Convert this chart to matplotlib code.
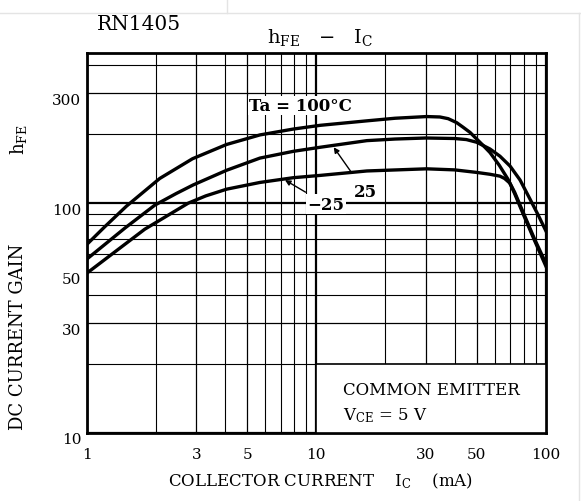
import numpy as np
import matplotlib
matplotlib.use("Agg")
import matplotlib.pyplot as plt
import matplotlib.transforms as mtransforms
from matplotlib.patches import Rectangle
from matplotlib.lines import Line2D

# hFE - IC curves (IC in mA)
ic_100 = [1, 1.2, 1.49, 2.08, 2.89, 4.07, 5.68, 7.94, 10.4, 16.6, 22, 30.2, 34.5, 37.5,
          40.8, 43.5, 46.7, 49.9, 53, 57, 62.6, 68.3, 73, 79.4, 89, 100]
hfe_100 = [66, 79, 97, 128, 156, 180, 198, 210, 218, 228, 234, 238, 237, 233,
           224, 214, 203, 190, 179, 166, 146, 127, 110, 90, 69, 53]

ic_25 = [1, 1.47, 1.98, 2.45, 2.91, 4.07, 5.68, 7.94, 10.4, 16.6, 22, 30, 40, 45,
         49.9, 57, 63, 69.7, 77.1, 85.2, 92.3, 100]
hfe_25 = [57, 78, 98, 110, 120, 139, 157, 168, 175, 187, 190, 192, 191, 189,
          184, 172, 160, 145, 126, 104, 89, 75.5]

ic_m25 = [1, 1.79, 2.77, 3.3, 4.07, 5.68, 7.94, 10.4, 16.6, 30.2, 40, 49.9, 57, 63,
          66, 69.7, 73, 79.4, 89, 100]
hfe_m25 = [49.5, 77, 100, 107.5, 115, 123, 129, 132, 138, 141, 139.5, 136, 133.5, 131,
           128, 122, 111.5, 91.5, 70, 54.5]

x_ticks = [1, 3, 5, 10, 30, 50, 100]
y_ticks = [10, 30, 50, 100, 300]
x_minor = [2, 4, 6, 7, 8, 9, 20, 40, 60, 70, 80, 90]
y_minor = [20, 40, 60, 70, 80, 90, 200, 400]

# box holding the test condition note
note_x = (10, 100)
note_y = (10, 20)

plt.rcParams['font.family'] = 'DejaVu Serif'
plt.rcParams['mathtext.fontset'] = 'dejavuserif'

fig = plt.figure(figsize=(5.81, 5.02), dpi=100)
ax = fig.add_axes([0.1492, 0.1355, 0.7906, 0.757])

ax.set_xscale('log')
ax.set_yscale('log')
ax.set_xlim(1, 100)
ax.set_ylim(10, 450)

for s in ax.spines.values():
    s.set_linewidth(2)

ax.set_xticks(x_ticks)
ax.set_xticklabels([str(v) for v in x_ticks])
ax.set_yticks(y_ticks)
ax.set_yticklabels([str(v) for v in y_ticks])
ax.set_xticks(x_minor, minor=True)
ax.set_yticks(y_minor, minor=True)
ax.tick_params(which='both', length=0, labelsize=11)
ax.tick_params(axis='x', pad=10)
ax.tick_params(axis='y', pad=4)
ax.tick_params(which='minor', labelleft=False, labelbottom=False)
ax.grid(True, which='major', color='black', lw=1.6)
ax.grid(True, which='minor', color='black', lw=0.8)
# only 1/10/100 and 10/100 lines are heavy
for gl, v in zip(ax.get_xgridlines(), x_ticks):
    if v not in (1, 10, 100):
        gl.set_linewidth(0.9)
for gl, v in zip(ax.get_ygridlines(), y_ticks):
    if v not in (10, 100):
        gl.set_linewidth(0.9)

# y tick numbers sit a little under their lines in the original
shift = mtransforms.ScaledTranslation(0, -5 / 100, fig.dpi_scale_trans)
for lab in ax.get_yticklabels():
    lab.set_transform(lab.get_transform() + shift)

ax.plot(ic_100, hfe_100, color='black', lw=2.4, zorder=3, solid_joinstyle='round')
ax.plot(ic_25, hfe_25, color='black', lw=2.4, zorder=3, solid_joinstyle='round')
ax.plot(ic_m25, hfe_m25, color='black', lw=2.4, zorder=3, solid_joinstyle='round')

ax.text(5.1, 266, 'Ta = 100°C', fontsize=12, fontweight='bold', va='center', ha='left',
        zorder=4, bbox=dict(facecolor='white', edgecolor='none', pad=1))
ax.annotate('25', xy=(11.9, 175), xytext=(16.3, 112), fontsize=12, fontweight='bold',
            ha='center', va='center', zorder=4,
            arrowprops=dict(arrowstyle='-|>', color='black', lw=1, shrinkA=7, shrinkB=0,
                            mutation_scale=8))
ax.annotate('−25', xy=(7.3, 126), xytext=(11.0, 99), fontsize=12, fontweight='bold',
            ha='center', va='center', zorder=4,
            bbox=dict(facecolor='white', edgecolor='none', pad=1),
            arrowprops=dict(arrowstyle='-|>', color='black', lw=1, shrinkA=3, shrinkB=0,
                            mutation_scale=8))

ax.add_patch(Rectangle((note_x[0], note_y[0]), note_x[1] - note_x[0], note_y[1] - note_y[0],
                       facecolor='white', edgecolor='black', lw=1.2, zorder=5))
ax.text(0.558, 0.115, 'COMMON EMITTER', transform=ax.transAxes, fontsize=12,
        ha='left', va='center', zorder=6)
ax.text(0.558, 0.048, r'V$_{\mathrm{CE}}$ = 5 V', transform=ax.transAxes, fontsize=12,
        ha='left', va='center', zorder=6)

fig.text(0.239, 0.952, 'RN1405', fontsize=14.5, ha='center', va='center')
fig.text(0.551, 0.926, r'h$_{\mathrm{FE}}$   −   I$_{\mathrm{C}}$', fontsize=14,
         ha='center', va='center')
fig.text(0.551, 0.042, r'COLLECTOR CURRENT    I$_{\mathrm{C}}$    (mA)', fontsize=12,
         ha='center', va='center')
fig.text(0.031, 0.143, 'DC CURRENT GAIN', fontsize=13, rotation=90,
         rotation_mode='anchor', ha='left', va='center')
fig.text(0.031, 0.753, r'h$_{\mathrm{FE}}$', fontsize=13, rotation=90,
         rotation_mode='anchor', ha='right', va='center')

# faint frame from the original screenshot
fig.add_artist(Line2D([0, 1], [0.972, 0.972], color='#e4e4e4', lw=1))
fig.add_artist(Line2D([0.391, 0.391], [0.972, 1], color='#e4e4e4', lw=1))
fig.add_artist(Line2D([0.997, 0.997], [0, 0.972], color='#e4e4e4', lw=1))

fig.savefig('out.png', dpi=100, facecolor='white')
